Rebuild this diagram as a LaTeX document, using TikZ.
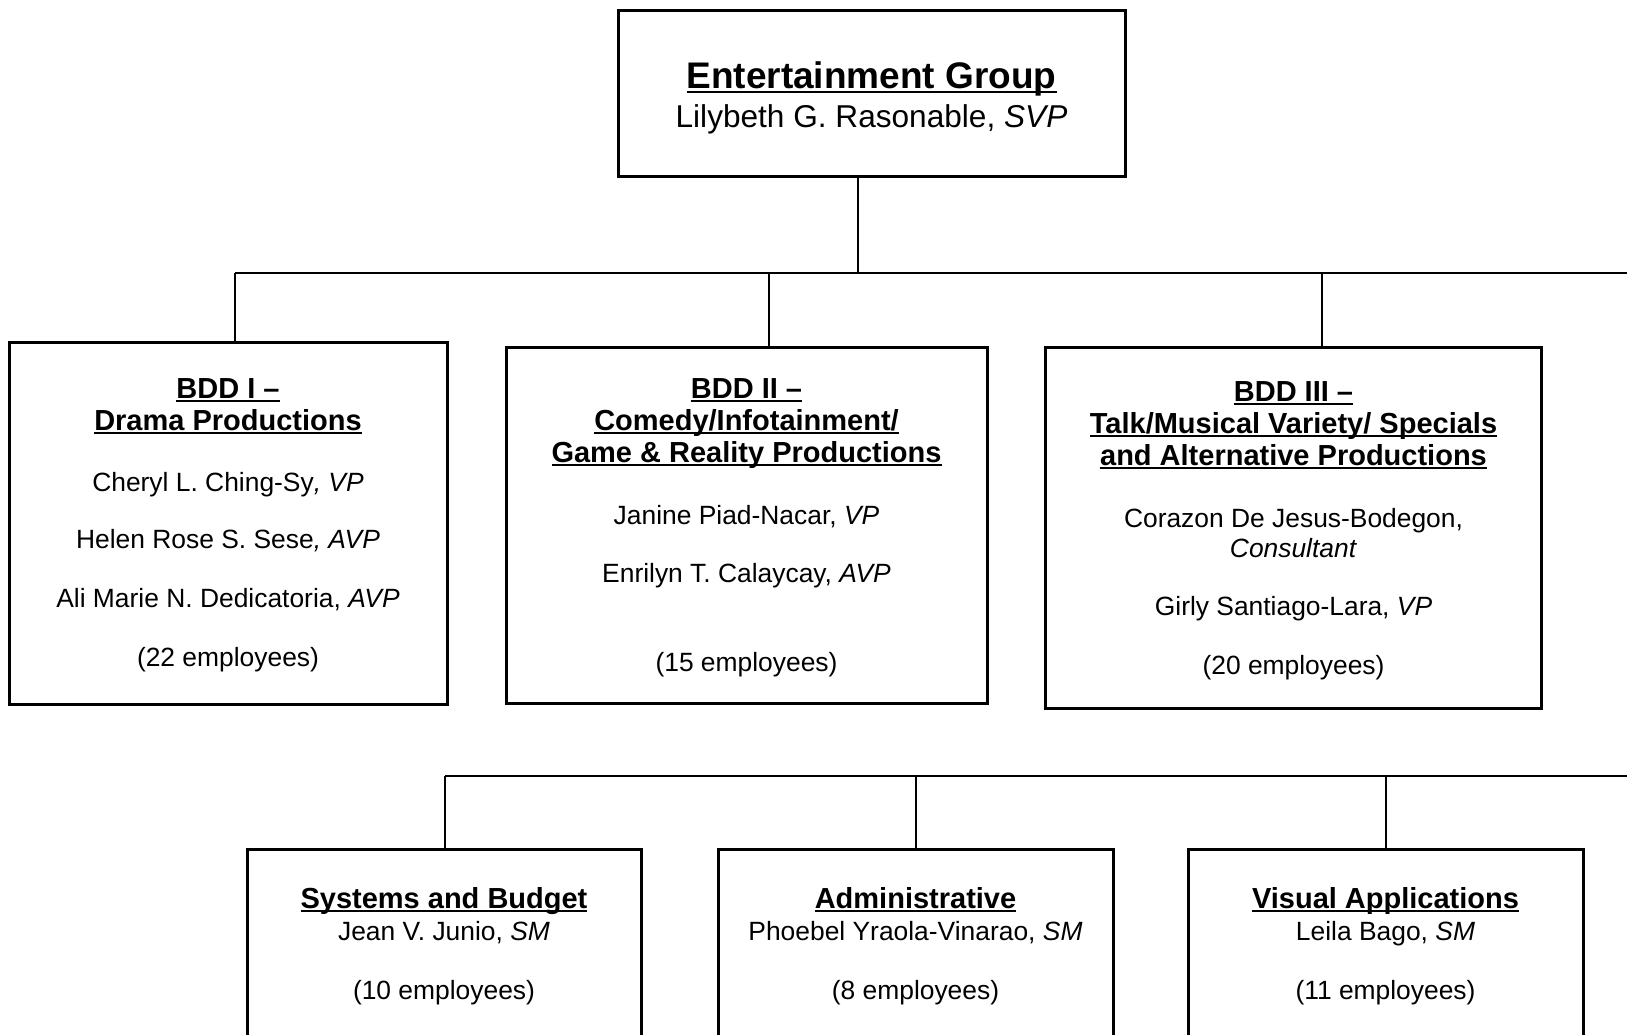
\documentclass[tikz,border=0pt]{standalone}
\usepackage{fontspec}
\setmainfont{Liberation Sans}
\newcommand{\ulx}[1]{\leavevmode\setbox0\hbox{#1}\rlap{\rule[-0.13em]{\wd0}{0.07em}}\box0}
\tikzset{
  box/.style={draw, rectangle, line width=3pt, inner sep=0pt, outer sep=0pt},
  conn/.style={line width=1.5pt},
  txt/.style={anchor=base, inner sep=0pt, outer sep=0pt},
  ttl/.style={txt, font=\fontsize{37}{42}\selectfont\bfseries},
  ttn/.style={txt, font=\fontsize{31.6}{36}\selectfont},
  hd/.style={txt, font=\fontsize{29}{34}\selectfont\bfseries},
  bd/.style={txt, font=\fontsize{26.4}{31}\selectfont}
}
\begin{document}
\begin{tikzpicture}[x=1pt,y=-1pt]
\useasboundingbox (0,0) rectangle (1627,1034);
\clip (0,0) rectangle (1627,1034);
\fill[white] (0,0) rectangle (1627,1034);

% boxes
\node[box, minimum width=507pt, minimum height=166pt] (top) at (871.5,93) {};
\node[box, minimum width=438pt, minimum height=362pt] (b1) at (228,523.5) {};
\node[box, minimum width=481pt, minimum height=356pt] (b2) at (746.5,525) {};
\node[box, minimum width=496pt, minimum height=361pt] (b3) at (1293.5,527.5) {};
\node[box, minimum width=394pt, minimum height=211pt] (s1) at (444,954.5) {};
\node[box, minimum width=395pt, minimum height=211pt] (s2) at (915.5,954.5) {};
\node[box, minimum width=395pt, minimum height=211pt] (s3) at (1385.5,954.5) {};

% connectors level 1
\coordinate (j0) at (858,273);
\coordinate (h1L) at (235,273);
\coordinate (h1R) at (1640,273);
\coordinate (d2) at (769,273);
\coordinate (d3) at (1322,273);
\draw[conn] (top.south -| j0) -- (j0);
\draw[conn] (h1L) -- (h1R);
\draw[conn] (h1L) -- (b1.north -| h1L);
\draw[conn] (d2) -- (b2.north -| d2);
\draw[conn] (d3) -- (b3.north -| d3);

% connectors level 2
\coordinate (h2L) at (445,776);
\coordinate (h2R) at (1640,776);
\coordinate (d5) at (916,776);
\coordinate (d6) at (1386,776);
\draw[conn] (h2L) -- (h2R);
\draw[conn] (h2L) -- (s1.north -| h2L);
\draw[conn] (d5) -- (s2.north -| d5);
\draw[conn] (d6) -- (s3.north -| d6);

% top text
\node[ttl] (t1) at (871.5,88.5) {\ulx{Entertainment Group}};
\node[ttn] (t2) at (871.5,127) {Lilybeth G. Rasonable, \textit{SVP}};

% BDD I
\node[hd] (a1) at (228,398) {\ulx{BDD I –}};
\node[hd] (a2) at (228,430) {\ulx{Drama Productions}};
\node[bd] (a3) at (228,491) {Cheryl L. Ching-Sy\textit{, VP}};
\node[bd] (a4) at (228,548) {Helen Rose S. Sese\textit{, AVP}};
\node[bd] (a5) at (228,607) {Ali Marie N. Dedicatoria, \textit{AVP}};
\node[bd] (a6) at (228,666.5) {(22 employees)};

% BDD II
\node[hd] (c1) at (746.5,398) {\ulx{BDD II –}};
\node[hd] (c2) at (746.5,430) {\ulx{Comedy/Infotainment/}};
\node[hd] (c3) at (746.5,462) {\ulx{Game \& Reality Productions}};
\node[bd] (c4) at (746.5,524.5) {Janine Piad-Nacar, \textit{VP}};
\node[bd] (c5) at (746.5,582.5) {Enrilyn T. Calaycay, \textit{AVP}};
\node[bd] (c6) at (746.5,671) {(15 employees)};

% BDD III
\node[hd] (e1) at (1293.5,401) {\ulx{BDD III –}};
\node[hd] (e2) at (1293.5,433) {\ulx{Talk/Musical Variety/ Specials}};
\node[hd] (e3) at (1293.5,465) {\ulx{and Alternative Productions}};
\node[bd] (e4) at (1293.5,527.5) {Corazon De Jesus-Bodegon,};
\node[bd] (e5) at (1293.5,557) {\textit{Consultant}};
\node[bd] (e6) at (1293.5,615.5) {Girly Santiago-Lara, \textit{VP}};
\node[bd] (e7) at (1293.5,674.5) {(20 employees)};

% bottom boxes
\node[hd] (f1) at (444,908) {\ulx{Systems and Budget}};
\node[bd] (f2) at (444,940.5) {Jean V. Junio, \textit{SM}};
\node[bd] (f3) at (444,999) {(10 employees)};

\node[hd] (g1) at (915.5,908) {\ulx{Administrative}};
\node[bd] (g2) at (915.5,940.5) {Phoebel Yraola-Vinarao, \textit{SM}};
\node[bd] (g3) at (915.5,999) {(8 employees)};

\node[hd] (k1) at (1385.5,908) {\ulx{Visual Applications}};
\node[bd] (k2) at (1385.5,940.5) {Leila Bago, \textit{SM}};
\node[bd] (k3) at (1385.5,999) {(11 employees)};
\end{tikzpicture}
\end{document}
